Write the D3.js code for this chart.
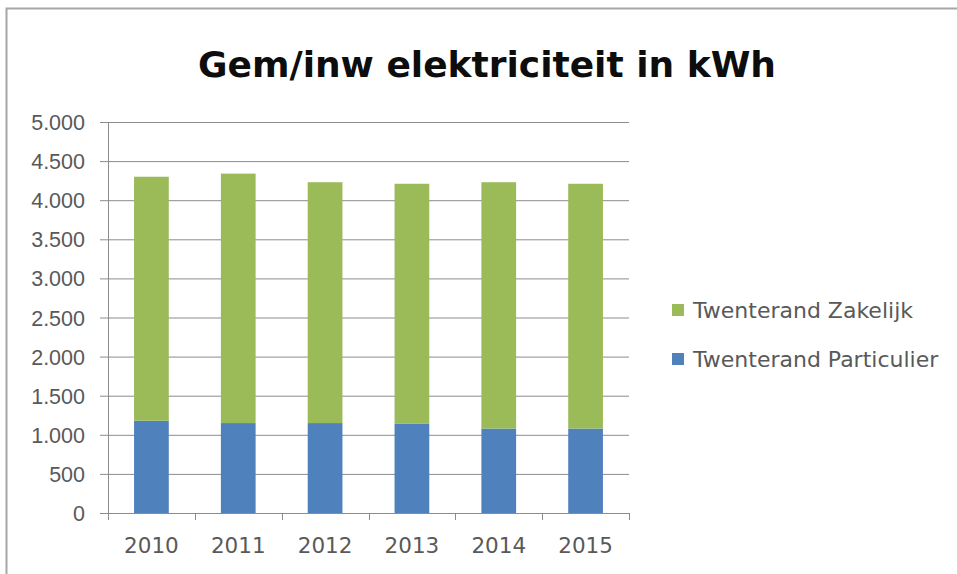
<!DOCTYPE html>
<html>
<head>
<meta charset="utf-8">
<script src="https://cdn.jsdelivr.net/npm/d3@7"></script>
<style>
  html, body { margin: 0; padding: 0; background: #fff; }
  svg { display: block; font-family: 'DejaVu Sans', 'Liberation Sans', sans-serif; }
</style>
</head>
<body>
<div id="chart"></div>
<script>
const years = ['2010', '2011', '2012', '2013', '2014', '2015']
const particulier = [1180, 1150, 1150, 1140, 1080, 1080]
const zakelijk = [3120, 3190, 3080, 3070, 3150, 3130]
const yTicks = [0, 500, 1000, 1500, 2000, 2500, 3000, 3500, 4000, 4500, 5000]
const seriesNames = ['Twenterand Zakelijk', 'Twenterand Particulier']

const width = 957
const height = 574
const margin = { top: 122, right: 328, bottom: 61, left: 108 }
const plotWidth = width - margin.left - margin.right
const plotHeight = height - margin.top - margin.bottom

const colors = { particulier: '#4f81bd', zakelijk: '#9bbb59' }

const rows = years.map((y, i) => ({
    year: y,
    particulier: particulier[i],
    zakelijk: zakelijk[i],
}))
const stacked = d3.stack().keys(['particulier', 'zakelijk'])(rows)

const x = d3.scaleBand().domain(years).range([0, plotWidth]).paddingInner(0.6).paddingOuter(0.3)
const y = d3.scaleLinear().domain([0, 5000]).range([plotHeight, 0])

const svg = d3
    .select('#chart')
    .append('svg')
    .attr('width', width)
    .attr('height', height)

// outer frame (only top and left edges visible)
svg.append('path')
    .attr('d', `M6.5,${height} V8.5 H${width}`)
    .attr('fill', 'none')
    .attr('stroke', '#a6a6a6')
    .attr('stroke-width', 2)

svg.append('text')
    .attr('x', 487)
    .attr('y', 77)
    .attr('text-anchor', 'middle')
    .style('font-size', '36px')
    .style('font-weight', 'bold')
    .style('fill', '#0d0d0d')
    .text('Gem/inw elektriciteit in kWh')

const plot = svg
    .append('g')
    .attr('transform', `translate(${margin.left}, ${margin.top})`)

// gridlines + y axis
const yAxis = d3
    .axisLeft(y)
    .tickValues(yTicks)
    .tickSize(-plotWidth)
    .tickPadding(23)
    .tickFormat((d) => d3.format(',')(d).replace(/,/g, '.'))

const yAxisNode = plot.append('g').call(yAxis)
yAxisNode.select('.domain').remove()
yAxisNode.selectAll('.tick line')
    .attr('x1', -8)
    .attr('stroke', '#8c8c8c')
    .attr('stroke-width', 1)
yAxisNode.selectAll('.tick text')
    .style('font-size', '21.5px')
    .style('fill', '#595959')
    .attr('dy', '0.35em')

plot.append('line')
    .attr('x1', 0.5)
    .attr('x2', 0.5)
    .attr('y1', 0)
    .attr('y2', plotHeight + 7)
    .attr('stroke', '#8c8c8c')

// category boundary ticks
plot.append('g')
    .selectAll('line')
    .data(d3.range(years.length + 1))
    .enter()
    .append('line')
    .attr('x1', (i) => Math.round((i * plotWidth) / years.length) + 0.5)
    .attr('x2', (i) => Math.round((i * plotWidth) / years.length) + 0.5)
    .attr('y1', plotHeight)
    .attr('y2', plotHeight + 7)
    .attr('stroke', '#8c8c8c')

// bars
plot.selectAll('.series')
    .data(stacked)
    .enter()
    .append('g')
    .attr('class', 'series')
    .attr('fill', (s) => colors[s.key])
    .selectAll('rect')
    .data((s) => s)
    .enter()
    .append('rect')
    .attr('x', (d) => x(d.data.year))
    .attr('width', x.bandwidth())
    .attr('y', (d) => y(d[1]))
    .attr('height', (d) => y(d[0]) - y(d[1]))

// x labels
plot.append('g')
    .selectAll('text')
    .data(years)
    .enter()
    .append('text')
    .attr('x', (d) => x(d) + x.bandwidth() / 2)
    .attr('y', plotHeight + 40)
    .attr('text-anchor', 'middle')
    .style('font-size', '21.5px')
    .style('fill', '#595959')
    .text((d) => d)

// legend
const legend = svg.append('g').attr('transform', 'translate(672, 310)')
const legendColors = [colors.zakelijk, colors.particulier]
const item = legend
    .selectAll('g')
    .data(seriesNames)
    .enter()
    .append('g')
    .attr('transform', (d, i) => `translate(0, ${i * 49})`)
item.append('rect')
    .attr('x', 0)
    .attr('y', -6)
    .attr('width', 12)
    .attr('height', 12)
    .attr('fill', (d, i) => legendColors[i])
item.append('text')
    .attr('x', 21)
    .attr('dy', '0.35em')
    .style('font-size', '22px')
    .style('fill', '#595959')
    .text((d) => d)
</script>
</body>
</html>
